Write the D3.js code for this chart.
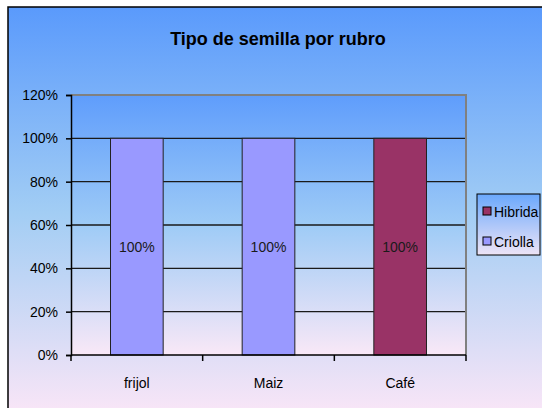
<!DOCTYPE html>
<html>
<head>
<meta charset="utf-8">
<script src="https://cdn.jsdelivr.net/npm/d3@7"></script>
<style>
  html, body { margin: 0; padding: 0; background: #fff; }
  svg { display: block; font-family: "Liberation Sans", Arial, sans-serif; }
</style>
</head>
<body>
<svg id="chart" width="542" height="408"></svg>
<script>
const title = "Tipo de semilla por rubro";
const categories = ["frijol", "Maiz", "Café"];
const seriesNames = ["Criolla", "Hibrida"];
const criolla = [1, 1, 0];
const hibrida = [0, 0, 1];
const yTicks = [0, 0.2, 0.4, 0.6, 0.8, 1.0, 1.2];
const colors = { Criolla: "#9999ff", Hibrida: "#993366" };

const svg = d3.select("#chart");
const defs = svg.append("defs");

function grad(id, stops) {
  const g = defs.append("linearGradient").attr("id", id)
    .attr("x1", 0).attr("y1", 0).attr("x2", 0).attr("y2", 1);
  stops.forEach(([o, c]) => g.append("stop").attr("offset", o).attr("stop-color", c));
}
grad("bgGrad", [[0, "#5a9afc"], [0.5, "#a2cdf4"], [1, "#fbe6f7"]]);
grad("plotGrad", [[0, "#5f9dfc"], [0.5, "#9ecbf6"], [1, "#f9e8f7"]]);
grad("legGrad", [[0, "#6aa8fc"], [1, "#eee4f6"]]);

const FS = "14px";

// chart area background & border
svg.append("rect").attr("x", 8).attr("y", 7).attr("width", 545).attr("height", 410)
  .attr("fill", "url(#bgGrad)").attr("stroke", "#000").attr("stroke-width", 1.5);

// title
svg.append("text").attr("x", 278).attr("y", 45).attr("text-anchor", "middle")
  .attr("font-size", "18px").attr("font-weight", "bold").attr("fill", "#000")
  .text(title);

const plot = { left: 71, right: 466, top: 95, bottom: 355 };

const x = d3.scaleBand().domain(categories).range([plot.left, plot.right]).paddingInner(0.6).paddingOuter(0.3);
const xb = d3.scaleBand().domain(categories).range([plot.left, plot.right]);
const y = d3.scaleLinear().domain([0, 1.2]).range([plot.bottom, plot.top]);

// plot background
svg.append("rect").attr("x", plot.left).attr("y", plot.top)
  .attr("width", plot.right - plot.left).attr("height", plot.bottom - plot.top)
  .attr("fill", "url(#plotGrad)");

// gridlines
svg.append("g").selectAll("line").data(yTicks.filter(t => t > 0 && t < 1.2)).join("line")
  .attr("x1", plot.left).attr("x2", plot.right)
  .attr("y1", d => y(d)).attr("y2", d => y(d))
  .attr("stroke", "#1a1a1a").attr("stroke-width", 1.3);

// plot border (top & right gray)
svg.append("path")
  .attr("d", `M${plot.left},${plot.top}H${plot.right}V${plot.bottom}`)
  .attr("fill", "none").attr("stroke", "#808080").attr("stroke-width", 2);

// stacked bars
const rows = categories.map((c, i) => ({ cat: c, Criolla: criolla[i], Hibrida: hibrida[i] }));
const stack = d3.stack().keys(seriesNames)(rows);
const gBars = svg.append("g");
stack.forEach(layer => {
  layer.forEach(d => {
    if (d[1] - d[0] <= 0) return;
    gBars.append("rect")
      .attr("x", x(d.data.cat)).attr("width", x.bandwidth())
      .attr("y", y(d[1])).attr("height", y(d[0]) - y(d[1]))
      .attr("fill", colors[layer.key]).attr("stroke", "#222").attr("stroke-width", 1);
    gBars.append("text")
      .attr("x", x(d.data.cat) + x.bandwidth() / 2)
      .attr("y", (y(d[0]) + y(d[1])) / 2 + 5)
      .attr("text-anchor", "middle").attr("font-size", FS).attr("fill", "#1a1a1a")
      .text(d3.format(".0%")(d[1] - d[0]));
  });
});

// y axis
const yAxis = d3.axisLeft(y).tickValues(yTicks).tickFormat(d3.format(".0%")).tickSize(5).tickPadding(8);
const gy = svg.append("g").attr("transform", `translate(${plot.left},0)`).call(yAxis);
gy.select(".domain").attr("stroke", "#000").attr("stroke-width", 1.5);
gy.selectAll(".tick line").attr("stroke", "#000").attr("stroke-width", 1.5);
gy.selectAll("text").attr("font-size", FS).attr("fill", "#000")
  .attr("font-family", "'Liberation Sans', Arial, sans-serif");

// x axis
const gx = svg.append("g").attr("transform", `translate(0,${plot.bottom})`);
gx.append("line").attr("x1", plot.left).attr("x2", plot.right).attr("y1", 0).attr("y2", 0)
  .attr("stroke", "#000").attr("stroke-width", 1.5);
const bounds = categories.map(c => xb(c)).concat([plot.right]);
gx.selectAll("line.tk").data(bounds).join("line").attr("class", "tk")
  .attr("x1", d => d).attr("x2", d => d).attr("y1", 0).attr("y2", 6)
  .attr("stroke", "#000").attr("stroke-width", 1.5);
gx.selectAll("text").data(categories).join("text")
  .attr("x", d => xb(d) + xb.bandwidth() / 2).attr("y", 33)
  .attr("text-anchor", "middle").attr("font-size", FS).attr("fill", "#000")
  .text(d => d);

// legend
const leg = svg.append("g");
leg.append("rect").attr("x", 477).attr("y", 194).attr("width", 63).attr("height", 61)
  .attr("fill", "url(#legGrad)").attr("stroke", "#000").attr("stroke-width", 1);
const legItems = ["Hibrida", "Criolla"];
legItems.forEach((k, i) => {
  const yy = 207 + i * 30;
  leg.append("rect").attr("x", 483).attr("y", yy).attr("width", 8).attr("height", 8)
    .attr("fill", colors[k]).attr("stroke", "#000").attr("stroke-width", 1);
  leg.append("text").attr("x", 494).attr("y", yy + 9.5).attr("font-size", FS).attr("fill", "#000").text(k);
});
</script>
</body>
</html>
